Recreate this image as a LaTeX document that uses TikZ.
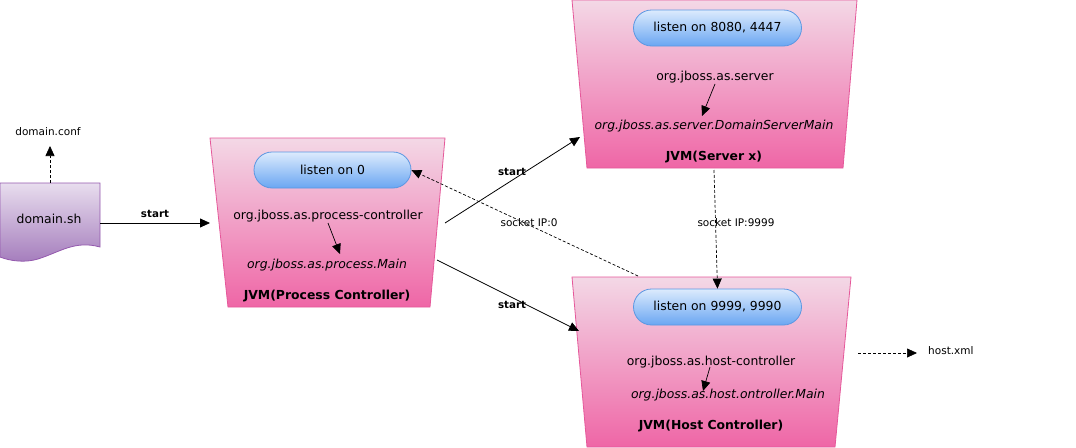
\documentclass[tikz,border=0pt]{standalone}
\usepackage{fontspec}
\setmainfont{DejaVu Sans}
\usetikzlibrary{arrows.meta,calc}
\definecolor{pinktop}{HTML}{F3D8E6}
\definecolor{pinkbot}{HTML}{EF66A6}
\definecolor{pinkline}{HTML}{E5589A}
\definecolor{bluetop}{HTML}{DCEBFD}
\definecolor{bluebot}{HTML}{6AA6F2}
\definecolor{blueline}{HTML}{5B97E2}
\definecolor{purptop}{HTML}{E8DDEE}
\definecolor{purpbot}{HTML}{A47CBC}
\definecolor{purpline}{HTML}{9459AE}
\tikzset{
  jvm/.style={draw=pinkline, line width=0.8pt, top color=pinktop, bottom color=pinkbot},
  pill/.style={draw=blueline, line width=0.8pt, top color=bluetop, bottom color=bluebot,
    rounded corners=18pt, minimum width=168pt, minimum height=36pt, inner sep=0pt,
    font=\fontsize{12.4}{14}\selectfont},
  main/.style={font=\fontsize{12.4}{14}\selectfont, inner sep=1pt},
  itl/.style={font=\fontsize{12.4}{14}\selectfont\itshape, inner sep=1pt},
  ttl/.style={font=\fontsize{12.4}{14}\selectfont\bfseries, inner sep=1pt},
  lbl/.style={font=\fontsize{10.5}{12}\selectfont, inner sep=1pt},
  blbl/.style={font=\fontsize{10.3}{12}\selectfont\bfseries, inner sep=1pt},
  arr/.style={-{Triangle[length=10pt,width=9pt]}, line width=0.8pt},
  darr/.style={-{Triangle[length=10pt,width=9pt]}, line width=0.7pt, dash pattern=on 3pt off 2pt},
}
\begin{document}
\begin{tikzpicture}[x=1pt,y=-1pt]
\useasboundingbox (0,0) rectangle (1076,447);

% domain.sh document shape
\shade[draw=purpline, line width=0.8pt, top color=purptop, bottom color=purpbot]
  (0,183) -- (100,183) -- (100,247)
  .. controls (75,240) and (60,252) .. (38,259)
  .. controls (25,263) and (10,261) .. (0,257) -- cycle;
\node[main] (dsh) at (49,219) {domain.sh};
\coordinate (dshtop) at (50,183);
\coordinate (dshright) at (100,223);
\node[lbl] (dconf) at (48,132) {domain.conf};
\coordinate (dconfbot) at (50,146);

% Process controller
\shade[jvm] (210,138) -- (445,138) -- (430,307) -- (228,307) -- cycle;
\node[pill, minimum width=157pt] (pcl) at (332.5,170) {listen on 0};
\node[main] (pcc) at (328,216) {org.jboss.as.process-controller};
\node[itl] (pcm) at (327,265) {org.jboss.as.process.Main};
\node[ttl] (pct) at (327,296) {JVM(Process Controller)};
\coordinate (pcin) at (210,223);
\coordinate (pcout1) at (445,223);
\coordinate (pcout2) at (437,260);
\coordinate (pca1) at (328,223);
\coordinate (pca2) at (340,254);

% Server
\shade[jvm] (572,0) -- (857,0) -- (843,168) -- (587,168) -- cycle;
\node[pill] (svl) at (717.5,28) {listen on 8080, 4447};
\node[main] (svc) at (715,77) {org.jboss.as.server};
\node[itl] (svm) at (714,126) {org.jboss.as.server.DomainServerMain};
\node[ttl] (svt) at (714,157) {JVM(Server x)};
\coordinate (svin) at (580,137);
\coordinate (svbot) at (714,170);
\coordinate (sva1) at (715,84);
\coordinate (sva2) at (702,116);

% Host controller
\shade[jvm] (572,277) -- (851,277) -- (835,447) -- (587,447) -- cycle;
\node[pill] (hcl) at (717.5,307) {listen on 9999, 9990};
\node[main] (hcc) at (711,362) {org.jboss.as.host-controller};
\node[itl] (hcm) at (728,395) {org.jboss.as.host.ontroller.Main};
\node[ttl] (hct) at (711,426) {JVM(Host Controller)};
\coordinate (hcin) at (579,331);
\coordinate (hctop) at (638,276);
\coordinate (hcright) at (858,353);
\coordinate (hca1) at (710,367);
\coordinate (hca2) at (703,391);
\node[lbl, anchor=west] (hxml) at (927,351) {host.xml};
\coordinate (hxmlin) at (917,353);

% connectors
\draw[darr] (dshtop) -- (dconfbot);
\draw[arr] (dshright) -- node[blbl, above=4pt] (s1) {start} (pcin);
\draw[arr] (pcout1) -- (svin);
\node[blbl] (s2) at (512,172) {start};
\draw[arr] (pcout2) -- (hcin);
\node[blbl] (s3) at (512,305) {start};
\draw[darr] (hctop) -- (pcl.east);
\node[lbl] (sk0) at (529,223) {socket IP:0};
\draw[darr] (svbot) -- (hcl.north);
\node[lbl] (sk9) at (736,223) {socket IP:9999};
\draw[darr] (hcright) -- (hxmlin);
\draw[arr, line width=0.7pt] (pca1) -- (pca2);
\draw[arr, line width=0.7pt] (sva1) -- (sva2);
\draw[arr, line width=0.7pt] (hca1) -- (hca2);
\end{tikzpicture}
\end{document}
